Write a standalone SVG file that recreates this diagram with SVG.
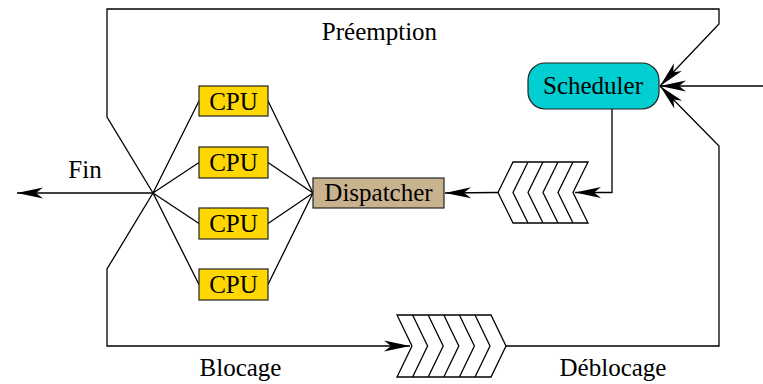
<svg xmlns="http://www.w3.org/2000/svg" width="763" height="384" viewBox="0 0 763 384">
<style>
.ln{fill:none;stroke:#000;stroke-width:1.3;stroke-linejoin:miter}
.arr{marker-end:url(#ah)}
.box{stroke:#222;stroke-width:1.2}
.cpu{fill:#ffd700}
.t{font-family:"Liberation Serif","Times New Roman",serif;font-size:25px;fill:#000;text-anchor:middle}
.q{fill:#fff;stroke:#000;stroke-width:1.3;stroke-linejoin:miter}
</style>
<defs>
<marker id="ah" markerUnits="userSpaceOnUse" markerWidth="30" markerHeight="14" viewBox="-27 -7 28 14" refX="0" refY="0" orient="auto" overflow="visible">
<path d="M0,0 L-26,-5.5 L-19,0 L-26,5.5 Z" fill="#000"/>
</marker>
</defs>
<rect width="763" height="384" fill="#fff"/>
<g id="connectors">
<path class="ln arr" d="M153,193 L107,117 L107,9 L719,9 L719,24 L660,86"/>
<path class="ln arr" d="M763,86 L660,86"/>
<path class="ln arr" d="M506,346 L719,346 L719,146 L660,86"/>
<path class="ln arr" d="M612,109 L612,192.5 L575,192.5"/>
<path class="ln arr" d="M498,192.5 L445,193"/>
<path class="ln arr" d="M153,193 L17,193"/>
<path class="ln arr" d="M153,193 L107,269 L107,346 L410,346"/>
<path class="ln" d="M153,193 L199,101 M153,193 L199,162.5 M153,193 L199,223.5 M153,193 L199,284.5"/>
<path class="ln" d="M268,101 L313,193 M268,162.5 L313,193 M268,223.5 L313,193 M268,284.5 L313,193"/>
</g>
<g id="cpu1"><rect class="box cpu" x="199" y="86" width="69" height="30"/><text class="t" x="233.5" y="109.5">CPU</text></g>
<g id="cpu2"><rect class="box cpu" x="199" y="147" width="69" height="31"/><text class="t" x="233.5" y="171">CPU</text></g>
<g id="cpu3"><rect class="box cpu" x="199" y="208" width="69" height="31"/><text class="t" x="233.5" y="232">CPU</text></g>
<g id="cpu4"><rect class="box cpu" x="199" y="269" width="69" height="31"/><text class="t" x="233.5" y="293">CPU</text></g>
<g id="dispatcher"><rect class="box" x="313" y="178" width="131" height="30" fill="#c9b38e"/><text class="t" x="378.5" y="200.5">Dispatcher</text></g>
<g id="scheduler"><rect class="box" x="528" y="63" width="131" height="46" rx="17" ry="17" fill="#00ced1"/><text class="t" x="593" y="94">Scheduler</text></g>
<g id="queue-ready">
<path class="q" d="M513,162 L588,162 L573,192.5 L588,223 L513,223 L498,192.5 Z"/>
<path class="ln" d="M528,162 L513,192.5 L528,223 M543,162 L528,192.5 L543,223 M558,162 L543,192.5 L558,223 M573,162 L558,192.5 L573,223"/>
</g>
<g id="queue-blocked">
<path class="q" d="M397,315 L491,315 L506,346 L491,377 L397,377 L412,346 Z"/>
<path class="ln" d="M412.6,315 L427.6,346 L412.6,377 M428.2,315 L443.2,346 L428.2,377 M443.8,315 L458.8,346 L443.8,377 M459.4,315 L474.4,346 L459.4,377 M475,315 L490,346 L475,377"/>
</g>
<g id="labels">
<text class="t" x="379.5" y="40">Préemption</text>
<text class="t" x="85" y="178">Fin</text>
<text class="t" x="240.5" y="376">Blocage</text>
<text class="t" x="613" y="376">Déblocage</text>
</g>
</svg>
